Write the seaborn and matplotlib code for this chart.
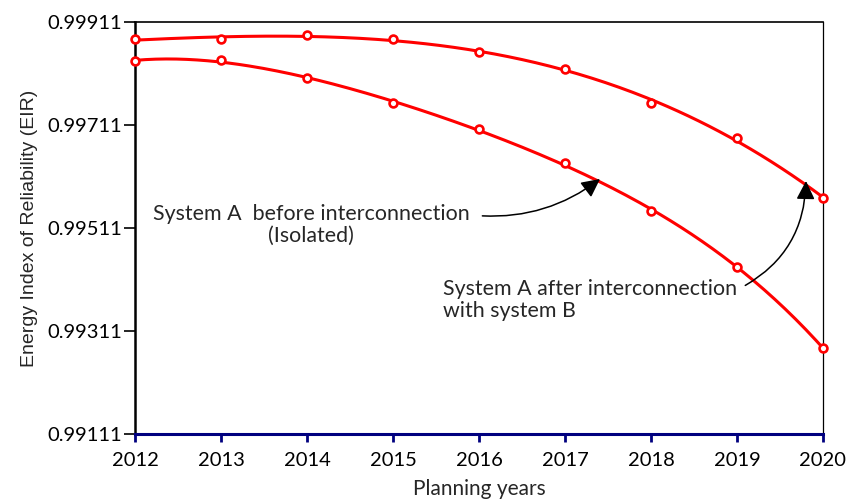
import numpy as np
import pandas as pd
import matplotlib
matplotlib.use("Agg")
import matplotlib.pyplot as plt
import seaborn as sns

years = [2012, 2013, 2014, 2015, 2016, 2017, 2018, 2019, 2020]
eir_after = [0.998774, 0.998774, 0.998858, 0.998774, 0.998522, 0.998192, 0.997537, 0.996863, 0.995687]
eir_before = [0.998353, 0.998366, 0.998017, 0.997531, 0.997027, 0.996366, 0.995434, 0.994359, 0.992780]
y_ticks = [0.99111, 0.99311, 0.99511, 0.99711, 0.99911]
y_tick_labels = ["0.99111", "0.99311", "0.99511", "0.99711", "0.99911"]

sns.set_theme(style="white")
plt.rcParams['font.family'] = ['Lato', 'DejaVu Sans']

fig = plt.figure(figsize=(8.55, 5.01), dpi=100)
ax = fig.add_axes([135/855, 1-434/501, (823-135)/855, (434-22)/501])

def py(p):
    return 0.99911 - (p - 22) * 0.008 / 412

def px(p):
    return 2012 + (p - 135) / 86.0

red = "#ff0000"
grid = np.linspace(2012, 2020, 200)
for vals in (eir_after, eir_before):
    coef = np.polyfit(years, vals, 4)
    df_fit = pd.DataFrame({"x": grid, "y": np.polyval(coef, grid)})
    sns.lineplot(data=df_fit, x="x", y="y", ax=ax, color=red, linewidth=2.2, clip_on=False)

df = pd.DataFrame({"year": years * 2, "eir": eir_after + eir_before})
sns.scatterplot(data=df, x="year", y="eir", ax=ax, s=32, facecolor="white",
                edgecolor=red, linewidth=1.9, zorder=5, clip_on=False)

ax.set_xlim(2012, 2020)
ax.set_ylim(0.99111, 0.99911)
ax.set_xticks(years)
ax.set_xticklabels([str(y) for y in years])
ax.set_yticks(y_ticks)
ax.set_yticklabels(y_tick_labels)

for s in ["left", "top", "right"]:
    ax.spines[s].set_color("black")
ax.spines["left"].set_linewidth(1.8)
ax.spines["top"].set_linewidth(1.2)
ax.spines["right"].set_linewidth(0.9)
ax.spines["bottom"].set_color("#00007f")
ax.spines["bottom"].set_linewidth(2.2)

ax.tick_params(axis="x", direction="out", length=6, width=2, color="#00007f",
               labelcolor="black", labelsize=14.5, pad=7, bottom=True)
ax.tick_params(axis="y", direction="out", length=8, width=1.2, color="black",
               labelcolor="black", labelsize=14.5, pad=1, left=True)

ax.set_xlabel("Planning years", fontsize=15, labelpad=7)
ax.set_ylabel("Energy Index of Reliability (EIR)", fontsize=14,
              family=["Liberation Sans", "DejaVu Sans"], labelpad=7)

ax.annotate("System A  before interconnection\n(Isolated)",
            xy=(px(600), py(179)), xytext=(px(311), py(225)),
            ha="center", va="center", fontsize=15.4, multialignment="center",
            linespacing=1.15,
            arrowprops=dict(arrowstyle="-|>", color="black", lw=1.1,
                            mutation_scale=28, connectionstyle="arc3,rad=0.2",
                            shrinkA=7, shrinkB=0, relpos=(1.0, 0.74)))

ax.annotate("System A after interconnection\nwith system B",
            xy=(px(806), py(181)), xytext=(px(443), py(300)),
            ha="left", va="center", fontsize=15.4, multialignment="left",
            linespacing=1.15,
            arrowprops=dict(arrowstyle="-|>", color="black", lw=1.1,
                            mutation_scale=28, connectionstyle="arc3,rad=0.3",
                            shrinkA=4, shrinkB=0, relpos=(1.0, 0.74)))

fig.savefig("out.png", dpi=100)
